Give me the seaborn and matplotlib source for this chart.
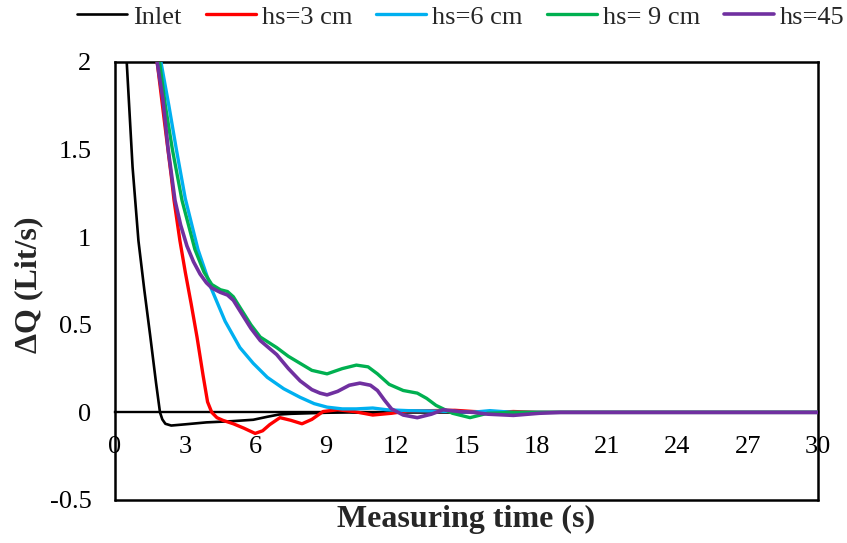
import matplotlib
matplotlib.use("Agg")
import matplotlib.pyplot as plt
import seaborn as sns
from matplotlib.ticker import FuncFormatter

# Series labels and colours
series_names = ["Inlet", "hs=3 cm", "hs=6 cm", "hs= 9 cm", "hs=45"]
series_colors = ["#000000", "#FF0000", "#00B0F0", "#00B050", "#7030A0"]
series_widths = [1.9, 2.4, 2.4, 2.4, 2.6]

# Measured discharge difference (Lit/s) against time (s)
inlet_t = [0, 0.25, 0.5, 0.75, 1.0, 1.25, 1.5, 1.75, 1.92, 2.02, 2.15, 2.4, 3.0, 3.9,
           5.0, 5.9, 6.5, 7.0, 7.5, 8.0, 9.0, 10, 11, 12, 15, 20, 25, 30]
inlet_q = [4.5, 3.1, 2.0, 1.4, 0.98, 0.7, 0.44, 0.17, 0.0, -0.04, -0.065, -0.075, -0.068, -0.057,
           -0.05, -0.042, -0.025, -0.012, -0.008, -0.006, -0.002, 0.0, -0.004, 0.0, 0.0, 0.0, 0.0, 0.0]

hs3_t = [1.5, 1.8, 2.1, 2.4, 2.52, 2.77, 3.0, 3.25, 3.5, 3.76, 3.95, 4.13, 4.35, 4.6, 5.05,
         5.5, 5.98, 6.3, 6.6, 7.04, 7.5, 7.98, 8.4, 8.88, 9.5, 10.2, 11.0, 11.8, 12.5, 13.5,
         14.5, 15.3, 16.2, 17, 18, 20, 25, 30]
hs3_q = [2.33, 2.0, 1.67, 1.35, 1.21, 0.98, 0.8, 0.62, 0.43, 0.21, 0.06, 0.0, -0.03, -0.045, -0.065,
         -0.09, -0.12, -0.105, -0.07, -0.03, -0.045, -0.065, -0.04, 0.005, 0.015, 0.005, -0.015, -0.005,
         0.008, 0.01, 0.012, 0.005, 0.0, 0.005, 0.0, 0.0, 0.0, 0.0]

hs6_t = [1.5, 1.96, 2.3, 2.62, 3.0, 3.54, 4.1, 4.7, 5.33, 5.9, 6.5, 7.2, 7.9, 8.5, 9.05,
         9.7, 10.3, 11.0, 11.6, 12.5, 13.5, 14.5, 15.2, 16.0, 17.0, 18, 20, 25, 30]
hs6_q = [2.35, 2.0, 1.75, 1.5, 1.22, 0.93, 0.71, 0.52, 0.37, 0.28, 0.2, 0.135, 0.086, 0.05, 0.03,
         0.02, 0.02, 0.025, 0.015, 0.01, 0.008, 0.005, 0.0, 0.01, 0.0, 0.0, 0.0, 0.0, 0.0]

hs9_t = [1.5, 1.9, 2.15, 2.45, 2.86, 3.41, 3.8, 4.13, 4.5, 4.8, 5.05, 5.33, 5.8, 6.2, 6.55,
         6.9, 7.4, 7.9, 8.4, 9.05, 9.7, 10.3, 10.8, 11.2, 11.7, 12.3, 12.9, 13.3, 13.7, 14.4,
         15.15, 15.9, 17, 18, 20, 25, 30]
hs9_q = [2.4, 2.0, 1.75, 1.5, 1.21, 0.93, 0.8, 0.73, 0.7, 0.69, 0.66, 0.6, 0.5, 0.43, 0.4,
         0.37, 0.32, 0.28, 0.24, 0.22, 0.25, 0.27, 0.26, 0.22, 0.16, 0.125, 0.11, 0.08, 0.04, -0.005,
         -0.03, -0.005, 0.0, 0.0, 0.0, 0.0, 0.0]

hs45_t = [1.5, 1.8, 2.05, 2.27, 2.56, 2.8, 3.07, 3.35, 3.63, 3.9, 4.13, 4.5, 4.8, 5.05, 5.33,
          5.8, 6.2, 6.55, 6.9, 7.4, 7.9, 8.4, 8.75, 9.05, 9.5, 10.0, 10.45, 10.9, 11.2, 11.5,
          11.8, 12.3, 12.9, 13.5, 14.0, 14.7, 15.3, 15.9, 17.0, 18.1, 19, 20, 25, 30]
hs45_q = [2.32, 2.0, 1.78, 1.5, 1.21, 1.07, 0.95, 0.86, 0.79, 0.74, 0.71, 0.685, 0.67, 0.64, 0.58,
          0.48, 0.41, 0.37, 0.33, 0.25, 0.18, 0.13, 0.11, 0.1, 0.12, 0.155, 0.167, 0.155, 0.125, 0.07,
          0.02, -0.015, -0.03, -0.01, 0.015, 0.005, 0.0, -0.01, -0.017, -0.005, 0.0, 0.0, 0.0, 0.0]

series_t = [inlet_t, hs3_t, hs6_t, hs9_t, hs45_t]
series_q = [inlet_q, hs3_q, hs6_q, hs9_q, hs45_q]

x_ticks = list(range(0, 31, 3))
y_ticks = [-0.5, 0, 0.5, 1, 1.5, 2]

sns.set_style("white")
plt.rcParams["font.family"] = ["Liberation Serif", "DejaVu Serif"]
plt.rcParams["axes.unicode_minus"] = False

fig = plt.figure(figsize=(8.47, 5.43), dpi=100)
ax = fig.add_axes([115 / 847, 43 / 543, 703 / 847, 438 / 543])

handles = []
for name, color, lw, t, q in zip(series_names, series_colors, series_widths, series_t, series_q):
    sns.lineplot(x=t, y=q, ax=ax, color=color, linewidth=lw, sort=False,
                 estimator=None, legend=False, zorder=3)
    line = ax.get_lines()[-1]
    line.set_solid_joinstyle("round")
    line.set_solid_capstyle("round")
    handles.append(line)

ax.set_xlim(0, 30)
ax.set_ylim(-0.5, 2)
ax.set_xticks(x_ticks)
ax.set_yticks(y_ticks)
ax.yaxis.set_major_formatter(FuncFormatter(lambda v, p: f"{v:g}"))
ax.xaxis.set_major_formatter(FuncFormatter(lambda v, p: f"{v:g}"))

# Horizontal axis crosses at zero; plot area keeps a full frame
ax.spines["bottom"].set_position(("data", 0))
ax.spines["bottom"].set_linewidth(1.7)
for side in ["left", "right", "top"]:
    ax.spines[side].set_linewidth(1.8)
    ax.spines[side].set_color("black")
ax.spines["bottom"].set_color("black")
ax.axhline(-0.5, color="black", linewidth=1.8, clip_on=False, zorder=2.5)

ax.tick_params(axis="x", length=0, pad=17, labelsize=19, colors="black")
ax.tick_params(axis="y", length=0, pad=17, labelsize=19, colors="black")

ax.set_xlabel("Measuring time (s)", fontsize=23, fontweight="bold")
ax.xaxis.label.set_va("baseline")
ax.xaxis.set_label_coords(0.5, -27 / 438)
ax.set_ylabel("ΔQ (Lit/s)", fontsize=23, fontweight="bold")
ax.yaxis.set_label_coords(-72 / 703, 215 / 438)

fig.legend(handles, series_names, loc="center", bbox_to_anchor=(461 / 847, 1 - 17 / 543),
           ncol=5, frameon=False, fontsize=19, handlelength=1.9, handletextpad=0.23,
           columnspacing=0.9, borderaxespad=0, borderpad=0)

fig.savefig("out.png", dpi=100)
